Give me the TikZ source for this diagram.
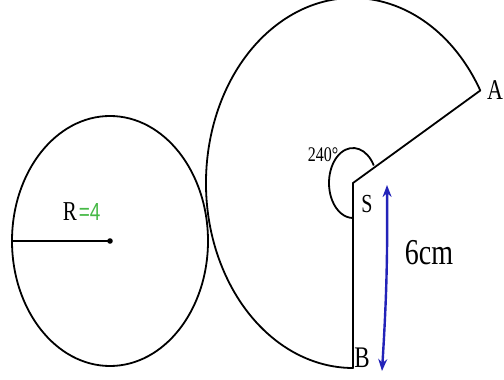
\documentclass[tikz,border=0pt]{standalone}
\usepackage{fontspec}
\setmainfont{Liberation Serif}
\setsansfont{Liberation Sans}
\usetikzlibrary{arrows.meta, calc}
\definecolor{penblue}{RGB}{35,35,185}
\definecolor{pengreen}{RGB}{70,185,70}
\newcommand{\tall}[1]{\scalebox{1}[1.3]{#1}}

\begin{document}
\begin{tikzpicture}[x=1pt,y=1pt,line width=1.8pt,
    lbl/.style={inner sep=0pt,font=\fontsize{22}{24}\selectfont}]
\useasboundingbox (0,0) rectangle (504,380);
\begin{scope}
    % left circle with its radius
    \coordinate (O) at (110,139);
    \coordinate (rim) at ($(O)+(-98,0)$);
    \draw (O) circle[x radius=98, y radius=125];
    \draw (rim) -- (O);
    \fill (O) circle (2.8pt);
    \node[lbl,font=\fontsize{21}{23}\selectfont] (labR) at (70,168) {\tall{R}};
    \node[lbl,pengreen,font=\sffamily\fontsize{19}{21}\selectfont,anchor=west] (valR) at (labR.east) {\tall{=4}};

    % sector
    \coordinate (S) at (353,197);
    \coordinate (B) at (353,12);
    \coordinate (A) at ($(S)+(30:147 and 185)$);
    \draw[line join=round] (S) -- (A) arc[start angle=30,end angle=270,x radius=147,y radius=185] -- cycle;
    \coordinate (angstart) at ($(S)+(30:24 and 35)$);
    \draw (angstart) arc[start angle=30,end angle=270,x radius=24,y radius=35];

    \node[lbl] (labA) at (495,290) {\tall{A}};
    \node[lbl,font=\fontsize{20}{22}\selectfont] (labS) at (367,176) {\tall{S}};
    \node[lbl,font=\fontsize{23}{25}\selectfont] (labB) at (362,22) {\tall{B}};
    \node[lbl,font=\fontsize{16}{18}\selectfont] (ang) at (323,225) {\tall{240°}};
    \node[lbl,font=\fontsize{28}{30}\selectfont] (len) at (429,127) {\tall{6cm}};

    % length arrow
    \coordinate (tip1) at (387,195);
    \coordinate (tip2) at (382,9);
    \draw[penblue,line width=2.4pt,{Stealth[length=12pt,width=9pt]}-{Stealth[length=12pt,width=9pt]}] (tip1) to[bend left=2] (tip2);
\end{scope}
\end{tikzpicture}
\end{document}
